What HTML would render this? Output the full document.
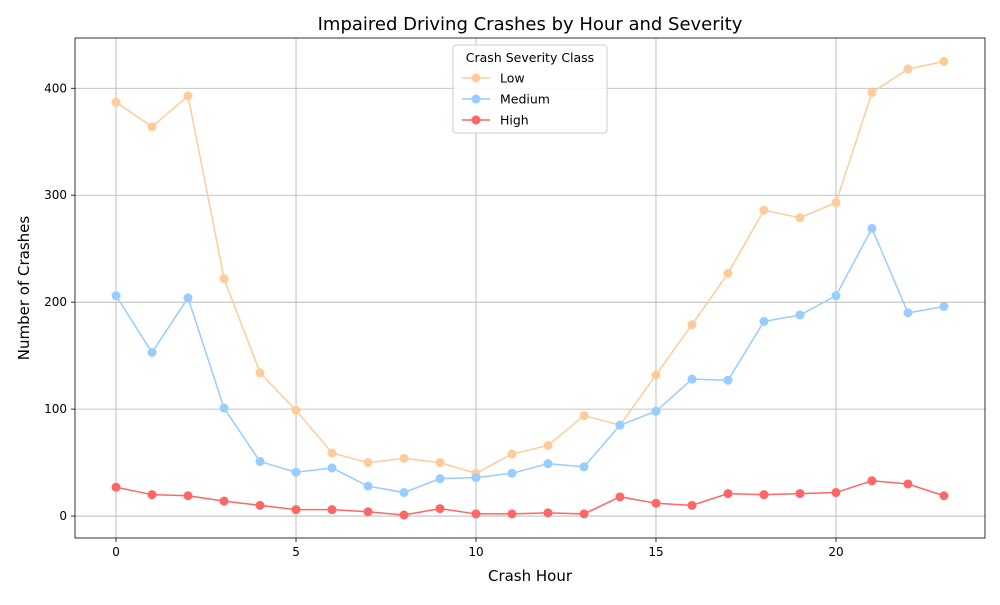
<!DOCTYPE html>
<html><head><meta charset="utf-8"><style>
body{margin:0;background:#fff;font-family:"Liberation Sans","DejaVu Sans",sans-serif}
</style></head><body>
<svg id="c" width="1000" height="600" xmlns="http://www.w3.org/2000/svg" font-family="DejaVu Sans, Liberation Sans, sans-serif"></svg>
<script>
const hours=[0,1,2,3,4,5,6,7,8,9,10,11,12,13,14,15,16,17,18,19,20,21,22,23];
const lowVals=[387,364,393,222,134,99,59,50,54,50,40,58,66,94,85,132,179,227,286,279,293,396,418,425];
const medVals=[206,153,204,101,51,41,45,28,22,35,36,40,49,46,85,98,128,127,182,188,206,269,190,196];
const highVals=[27,20,19,14,10,6,6,4,1,7,2,2,3,2,18,12,10,21,20,21,22,33,30,19];
const xTicks=[0,5,10,15,20];
const yTicks=[0,100,200,300,400];
const L=75,R=985,T=38,B=538;
const xMin=-1.14,xMax=24.14,yMin=-20.5,yMax=447;
const xs=v=>L+(v-xMin)/(xMax-xMin)*(R-L);
const ys=v=>B-(v-yMin)/(yMax-yMin)*(B-T);
const svg=document.getElementById('c');
const NS='http://www.w3.org/2000/svg';
function mk(t,a,p){const e=document.createElementNS(NS,t);for(const k in a)e.setAttribute(k,a[k]);(p||svg).appendChild(e);return e;}
const grid=mk('g',{});


xTicks.forEach(v=>{mk('line',{x1:xs(v),x2:xs(v),y1:T,y2:B,stroke:'#b0b0b0','stroke-width':0.8},grid);
 mk('line',{x1:xs(v),x2:xs(v),y1:B,y2:B+4,stroke:'#000','stroke-width':0.8},grid);
 const t=mk('text',{x:xs(v),y:B+18,'text-anchor':'middle','font-size':12},grid);t.textContent=v;
 });
yTicks.forEach(v=>{mk('line',{x1:L,x2:R,y1:ys(v),y2:ys(v),stroke:'#b0b0b0','stroke-width':0.8},grid);
 mk('line',{x1:L-4,x2:L,y1:ys(v),y2:ys(v),stroke:'#000','stroke-width':0.8},grid);
 const t=mk('text',{x:L-8,y:ys(v)+4,'text-anchor':'end','font-size':12},grid);t.textContent=v;
 });
const series=[['Low',lowVals,'#ffcc99'],['Medium',medVals,'#99ccff'],['High',highVals,'#ff6666']];
series.forEach(([n,vals,c])=>{
 const g=mk('g',{});
 
 
 mk('polyline',{points:hours.map((h,i)=>xs(h)+','+ys(vals[i])).join(' '),fill:'none',stroke:c,'stroke-width':1.5},g);
 hours.forEach((h,i)=>{const p=mk('circle',{cx:xs(h),cy:ys(vals[i]),r:4.5,fill:c},g);
  
  });
});
const fr=mk('rect',{x:L,y:T,width:R-L,height:B-T,fill:'none',stroke:'#000','stroke-width':0.8});

const title=mk('text',{x:530,y:30,'text-anchor':'middle','font-size':18});title.textContent='Impaired Driving Crashes by Hour and Severity';

const xt=mk('text',{x:530,y:581,'text-anchor':'middle','font-size':15});xt.textContent='Crash Hour';

const yt=mk('text',{x:0,y:0,'text-anchor':'middle','font-size':15,transform:'translate(29,288) rotate(-90)'});yt.textContent='Number of Crashes';

const lg=mk('g',{});

mk('rect',{x:453,y:45,width:154,height:88,rx:3,fill:'#fff','fill-opacity':0.85,stroke:'#ccc'},lg);
const lt=mk('text',{x:530,y:62,'text-anchor':'middle','font-size':12.5},lg);lt.textContent='Crash Severity Class';
series.forEach(([n,vals,c],i)=>{const y=78+i*21;
 const e=mk('g',{},lg);
 
 
 mk('line',{x1:462,x2:490,y1:y,y2:y,stroke:c,'stroke-width':1.5},e);
 mk('circle',{cx:476,cy:y,r:4.5,fill:c},e);
 const t=mk('text',{x:500,y:y+4.5,'font-size':12.5},e);t.textContent=n;});
</script>
</body></html>
